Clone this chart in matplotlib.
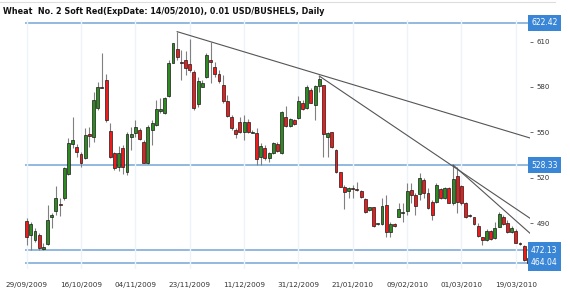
import matplotlib
matplotlib.use('Agg')
import matplotlib.pyplot as plt
import matplotlib.transforms as mtransforms
from matplotlib.lines import Line2D

title = 'Wheat  No. 2 Soft Red(ExpDate: 14/05/2010), 0.01 USD/BUSHELS, Daily'

# tick labels, one every 13 trading days
date_labels = ['29/09/2009', '16/10/2009', '04/11/2009', '23/11/2009', '11/12/2009',
               '31/12/2009', '21/01/2010', '09/02/2010', '01/03/2010', '19/03/2010']

opens = [491.5, 482.3, 479.0, 482.3, 472.8, 476.1, 494.0, 498.1, 503.0, 506.5,
         522.3, 542.1, 540.1, 535.5, 532.9, 549.2, 547.2, 565.9, 580.2, 584.6,
         551.2, 536.2, 527.4, 539.5, 524.1, 547.2, 549.4, 551.6, 543.9, 530.0,
         551.6, 554.9, 564.4, 562.6, 574.0, 596.0, 605.3, 596.7, 597.8, 595.2,
         590.1, 568.8, 580.2, 586.4, 597.8, 593.4, 588.3, 581.1, 570.7, 560.0,
         551.6, 557.1, 550.5, 557.1, 549.8, 549.8, 534.0, 539.9, 532.9, 536.2,
         542.4, 536.2, 560.0, 554.2, 558.2, 559.3, 569.6, 565.9, 578.0, 568.1,
         580.6, 581.1, 547.2, 550.3, 538.4, 523.7, 514.2, 511.6, 513.5, 512.4,
         511.1, 505.8, 498.8, 500.5, 489.3, 489.3, 501.9, 484.5, 489.5, 494.4,
         497.0, 498.1, 512.0, 508.7, 509.4, 518.6, 509.8, 504.3, 504.3, 512.6,
         506.5, 513.5, 503.6, 521.2, 514.6, 503.6, 495.3, 494.0, 488.5, 480.7,
         479.0, 485.2, 480.1, 487.8, 494.4, 490.0, 484.1, 485.2, 477.2, 475.2,
         466.9]
highs = [493.3, 491.1, 486.7, 483.4, 476.8, 502.1, 496.6, 514.6, 506.5, 527.4,
         546.1, 560.4, 542.4, 537.3, 552.7, 553.8, 576.9, 583.5, 602.6, 588.6,
         556.4, 537.3, 541.2, 541.7, 550.5, 553.4, 558.2, 552.7, 545.0, 554.9,
         558.2, 571.4, 572.5, 573.6, 597.8, 609.2, 616.5, 604.4, 603.7, 611.4,
         591.2, 586.8, 584.6, 602.2, 609.9, 596.7, 591.2, 587.9, 574.7, 561.5,
         552.7, 560.4, 561.5, 558.6, 551.6, 552.7, 542.8, 541.7, 537.3, 543.9,
         543.9, 564.4, 567.4, 559.3, 558.6, 574.0, 571.4, 581.3, 579.1, 581.3,
         587.2, 581.3, 550.5, 550.5, 538.8, 524.1, 515.3, 514.2, 515.3, 517.5,
         512.0, 506.5, 501.0, 501.0, 490.2, 506.5, 508.7, 491.1, 490.0, 503.2,
         503.2, 516.4, 516.4, 509.8, 523.0, 519.7, 513.1, 505.4, 516.8, 513.1,
         514.2, 514.2, 528.5, 527.4, 515.3, 504.3, 495.9, 494.4, 490.0, 481.2,
         486.0, 485.6, 491.1, 497.7, 495.5, 492.2, 488.2, 486.0, 477.9, 475.7,
         467.5]
lows = [475.7, 472.4, 477.9, 472.4, 472.4, 475.7, 486.7, 495.5, 495.0, 505.4,
        521.9, 539.9, 534.0, 527.4, 532.2, 540.2, 543.9, 564.8, 579.1, 557.1,
        532.9, 525.2, 524.8, 522.6, 521.9, 538.4, 547.2, 545.0, 529.6, 529.2,
        541.7, 554.2, 562.6, 562.2, 573.2, 595.6, 597.8, 584.6, 587.9, 590.1,
        564.8, 566.6, 579.8, 585.7, 582.4, 586.8, 582.4, 569.2, 560.0, 551.6,
        546.1, 549.4, 545.0, 549.4, 549.4, 528.5, 528.5, 531.8, 530.7, 535.8,
        537.3, 535.8, 553.8, 553.8, 554.9, 558.9, 564.8, 565.2, 569.2, 558.2,
        576.9, 534.0, 533.6, 539.5, 523.0, 513.8, 499.2, 506.9, 506.5, 511.6,
        506.5, 497.0, 498.3, 487.8, 489.1, 488.9, 480.7, 481.2, 487.8, 494.0,
        491.1, 495.5, 503.2, 495.5, 505.4, 506.5, 499.2, 492.2, 503.6, 505.8,
        505.8, 503.2, 502.1, 496.6, 502.1, 493.3, 494.4, 488.9, 481.2, 475.7,
        478.5, 479.0, 479.4, 487.3, 488.9, 483.4, 483.4, 476.8, 475.7, 465.4,
        464.0]
closes = [480.7, 489.3, 484.9, 473.5, 474.1, 492.2, 495.3, 506.9, 502.1, 526.3,
          542.8, 545.0, 536.9, 530.0, 548.3, 547.6, 571.4, 580.2, 579.3, 558.2,
          534.0, 526.7, 536.2, 527.4, 549.0, 548.7, 553.8, 545.4, 530.0, 553.4,
          556.0, 565.2, 565.2, 572.9, 596.0, 608.8, 600.0, 595.6, 592.3, 591.2,
          565.9, 584.2, 582.4, 600.9, 596.7, 588.6, 584.2, 570.7, 560.8, 552.7,
          548.7, 550.5, 557.1, 550.1, 550.3, 532.2, 541.2, 533.3, 536.2, 542.8,
          537.9, 563.7, 554.2, 558.6, 555.3, 570.7, 565.2, 579.8, 569.6, 580.6,
          585.0, 548.7, 549.8, 540.6, 523.7, 514.2, 510.9, 513.1, 512.6, 511.7,
          507.6, 497.7, 500.5, 488.2, 490.0, 501.4, 484.5, 489.5, 488.2, 499.2,
          497.7, 511.6, 508.7, 501.4, 519.7, 509.8, 499.9, 495.5, 515.3, 506.5,
          513.1, 503.6, 519.0, 504.3, 503.2, 494.4, 494.8, 489.5, 481.6, 479.0,
          485.2, 479.4, 486.7, 495.9, 489.5, 484.3, 486.7, 477.2, 476.3, 465.8,
          464.04]

# horizontal levels with labels on the price axis
levels = [622.42, 528.33, 472.13, 464.04]

# trend lines: (start bar, start price, end bar, end price)
trend_lines = [(36, 616.5, 120.4, 546.3),
               (70, 587.2, 120.4, 493.3),
               (102, 528.5, 120.4, 483.4)]

fig = plt.figure(figsize=(5.7, 2.9), dpi=100)
ax = fig.add_axes([25 / 570, 1 - 269 / 290, 505 / 570, 249 / 290])

n = len(opens)
x = list(range(n))
up = [c >= o for o, c in zip(opens, closes)]
colors = ['#2e8b22' if u else '#f01a1a' for u in up]
bottoms = [min(o, c) for o, c in zip(opens, closes)]
heights = [abs(c - o) for o, c in zip(opens, closes)]

# wicks then bodies
ax.vlines(x, lows, highs, color='#808080', lw=0.8, zorder=2)
ax.bar(x, heights, bottom=bottoms, width=0.7, color=colors,
       edgecolor='#1a1a1a', linewidth=0.5, zorder=3)

for lv in levels:
    ax.axhline(lv, color='#92badf', lw=1.4, zorder=1)

for x0, y0, x1, y1 in trend_lines:
    ax.plot([x0, x1], [y0, y1], color='#555555', lw=0.8, zorder=4)

ax.set_xlim(-0.4, 120.4)
ax.set_ylim(459.8, 624.2)

ax.set_xticks(range(0, 13 * len(date_labels), 13))
ax.set_xticklabels(date_labels, fontsize=5.2, color='#333333')
ax.grid(axis='x', color='#eef3fa', lw=1, zorder=0)
ax.tick_params(axis='x', length=0, pad=9)

ax.yaxis.tick_right()
ax.set_yticks([460, 490, 520, 550, 580, 610])
ax.tick_params(axis='y', labelsize=5, colors='#333333', length=2, width=0.5, pad=3)

for s in ax.spines.values():
    s.set_visible(False)

trans = mtransforms.blended_transform_factory(ax.transAxes, ax.transData)
for lv in levels:
    ax.text(1.002, lv, f'{lv:.2f}', transform=trans, ha='left', va='center',
            fontsize=5.5, color='white', zorder=10, clip_on=False,
            bbox=dict(boxstyle='square,pad=0.45', fc='#3a86d6', ec='none'))

fig.text(3 / 570, 1 - 12 / 290, title, fontsize=5.8, fontweight='bold',
         color='#111111', va='center', ha='left')
fig.add_artist(Line2D([0, 555 / 570], [1 - 2 / 290, 1 - 2 / 290],
                      color='#dddddd', lw=0.8))

fig.savefig('out.png', dpi=100)
